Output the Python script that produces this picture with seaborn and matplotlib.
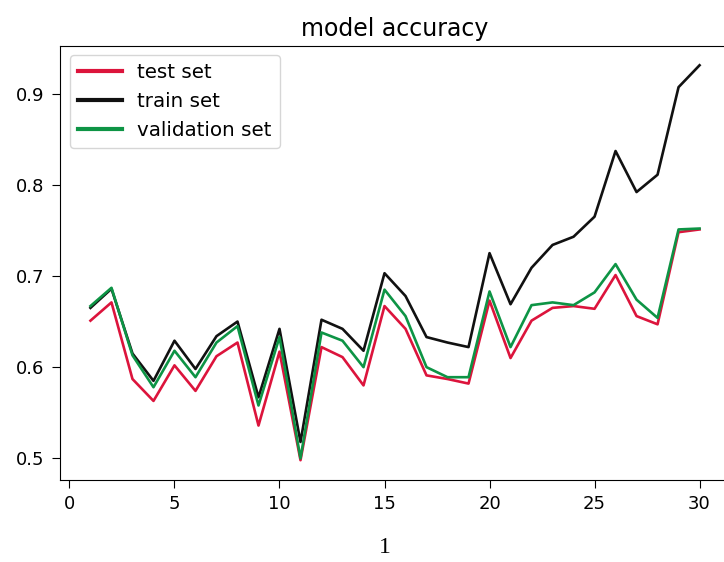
import pandas as pd
import matplotlib
matplotlib.use('Agg')
import matplotlib.pyplot as plt
import seaborn as sns

# Epochs and accuracy per set
epochs = list(range(1, 31))
test_acc = [0.651, 0.671, 0.587, 0.563, 0.602, 0.574, 0.612, 0.627, 0.536, 0.617,
            0.498, 0.622, 0.611, 0.580, 0.667, 0.642, 0.591, 0.587, 0.582, 0.673,
            0.610, 0.651, 0.665, 0.667, 0.664, 0.701, 0.656, 0.647, 0.748, 0.751]
train_acc = [0.665, 0.686, 0.615, 0.585, 0.629, 0.598, 0.634, 0.650, 0.567, 0.642,
             0.518, 0.652, 0.642, 0.618, 0.703, 0.678, 0.633, 0.627, 0.622, 0.725,
             0.669, 0.709, 0.734, 0.743, 0.765, 0.837, 0.792, 0.811, 0.907, 0.931]
val_acc = [0.667, 0.687, 0.613, 0.578, 0.618, 0.589, 0.627, 0.645, 0.558, 0.633,
           0.500, 0.638, 0.629, 0.600, 0.685, 0.656, 0.600, 0.589, 0.589, 0.683,
           0.622, 0.668, 0.671, 0.668, 0.682, 0.713, 0.674, 0.654, 0.751, 0.752]

series_names = ['test set', 'train set', 'validation set']
series_colors = ['#dc143c', '#111111', '#0d9445']

fig = plt.figure(figsize=(7.24, 5.62), dpi=100)
ax = fig.add_axes([0.0829, 0.146, 0.9254, 0.773])

for name, vals, col in zip(series_names, [test_acc, train_acc, val_acc], series_colors):
    df = pd.DataFrame({'epoch': epochs, 'acc': vals})
    sns.lineplot(data=df, x='epoch', y='acc', color=col, linewidth=1.9, label=name, ax=ax)

# the right edge of the original picture is cut off
ax.spines['right'].set_visible(False)

ax.set_title('model accuracy', fontsize=17, pad=7)
ax.set_ylabel('')
ax.set_xlabel('1', fontsize=17, family='Liberation Serif')
ax.xaxis.set_label_coords(0.4845, -0.132)
ax.set_xticks([0, 5, 10, 15, 20, 25, 30])
ax.set_yticks([0.5, 0.6, 0.7, 0.8, 0.9])
ax.tick_params(labelsize=13, length=6, pad=5)

leg = ax.legend(loc='upper left', fontsize=14.3, handlelength=2.2)
for line in leg.get_lines():
    line.set_linewidth(3)

fig.savefig('out.png', dpi=100)
